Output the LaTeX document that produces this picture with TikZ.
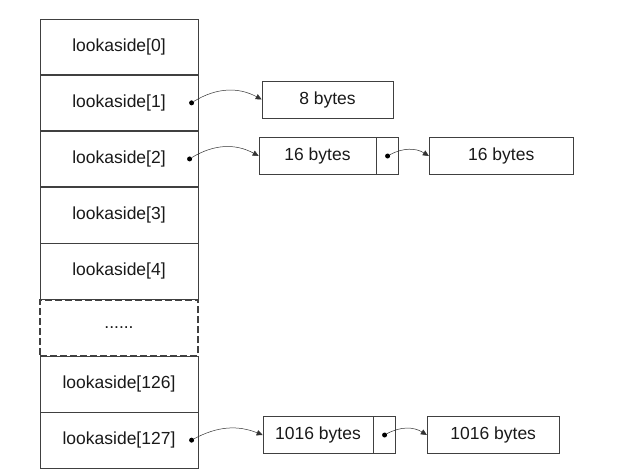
\documentclass[tikz,border=0pt]{standalone}
\usepackage{fontspec}
\setmainfont{Liberation Sans}
\usetikzlibrary{positioning,arrows.meta}

\begin{document}
\begin{tikzpicture}[x=1pt,y=-1pt,
    slot/.style={draw=black!75,line width=0.6pt,minimum width=158pt,minimum height=55.5pt,
      inner sep=0pt,font=\fontsize{17.5}{20}\selectfont},
    blk/.style={draw=black!75,line width=0.6pt,minimum height=37pt,inner sep=0pt,
      font=\fontsize{17.5}{20}\selectfont},
    ptr/.style={circle,fill=black,inner sep=0pt,minimum size=5pt},
    link/.style={black!80,line width=0.5pt,-{Triangle[length=6pt,width=5.5pt]}},
    black!90]
    \useasboundingbox (0,0) rectangle (641,469);
    % the lookaside table
    \node[slot] (la0) at (119,46.75) {lookaside[0]};
    \node[slot,below=0pt of la0] (la1) {lookaside[1]};
    \node[slot,below=0pt of la1] (la2) {lookaside[2]};
    \node[slot,below=0pt of la2] (la3) {lookaside[3]};
    \node[slot,below=0pt of la3] (la4) {lookaside[4]};
    \node[slot,below=0pt of la4,dash pattern=on 7pt off 3pt,line width=1.3pt] (gap) {......};
    \node[slot,below=0pt of gap] (la126) {lookaside[126]};
    \node[slot,below=0pt of la126] (la127) {lookaside[127]};
    % pointers out of the table
    \node[ptr,left=4pt of la1.east] (d1) {};
    \node[ptr,left=6pt of la2.east] (d2) {};
    \node[ptr,left=4pt of la127.east] (d127) {};
    % free blocks
    \node[blk,minimum width=131pt] (b1) at (327.5,99.5) {8 bytes};
    \node[blk,minimum width=117pt] (b2) at (317.5,156) {16 bytes};
    \node[blk,minimum width=22pt,right=0pt of b2] (b2p) {};
    \node[blk,minimum width=144pt,right=30pt of b2p] (b2n) {16 bytes};
    \node[blk,minimum width=110pt] (b127) at (318,435) {1016 bytes};
    \node[blk,minimum width=22pt,right=0pt of b127] (b127p) {};
    \node[blk,minimum width=132pt,right=31pt of b127p] (b127n) {1016 bytes};
    \node[ptr] (d2p) at (b2p) {};
    \node[ptr] (d127p) at (b127p) {};
    % links
    \draw[link] (d1) to[bend left=30] (b1.west);
    \draw[link] (d2) to[bend left=30] (b2.west);
    \draw[link] (d2p) to[bend left=30] (b2n.west);
    \draw[link] (d127) to[bend left=25] (b127.west);
    \draw[link] (d127p) to[bend left=30] (b127n.west);
\end{tikzpicture}
\end{document}
